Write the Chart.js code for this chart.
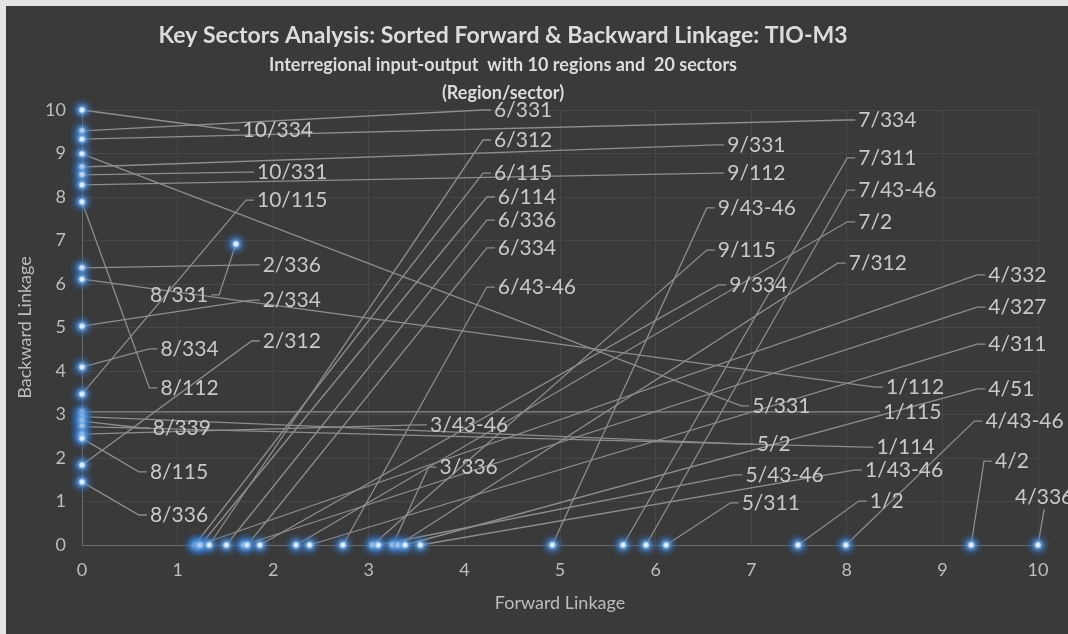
<!DOCTYPE html>
<html lang="en">
<head>
    <meta charset="UTF-8">
    <title>Key Sectors Analysis</title>
    <script src="https://cdn.jsdelivr.net/npm/chart.js"></script>
    <style>
        body { margin: 0; background: #e4e4e4; }
        #frame { position: absolute; left: 6px; top: 6px; width: 1062px; height: 628px; background: #3a3a3a; }
    </style>
</head>
<body>
    <div id="frame"><canvas id="linkChart" width="1062" height="628"></canvas></div>

    <script>
        // region/sector names, one per point
        const sectorLabels = [
            '10/334', '6/331', '7/334', '5/331', '9/331', '10/331', '9/112', '8/112',
            '2/336', '1/112', '2/334', '8/334', '10/115', '1/115', '5/2', '8/339',
            '1/114', '3/43-46', '8/115', '2/312', '8/336', '8/331',
            '4/336', '4/2', '4/43-46', '1/2', '5/311', '7/43-46', '7/311', '9/43-46',
            '6/115', '4/332', '6/114', '6/312', '6/336', '4/327', '6/334', '9/334',
            '7/2', '4/311', '6/43-46', '9/115', '5/43-46', '3/336', '7/312', '4/51', '1/43-46'
        ];
        const forwardLinkage = [
            0, 0, 0, 0, 0, 0, 0, 0,
            0, 0, 0, 0, 0, 0, 0, 0,
            0, 0, 0, 0, 0, 1.61,
            10.0, 9.30, 7.99, 7.49, 6.11, 5.90, 5.66, 4.92,
            1.18, 1.22, 1.24, 1.33, 1.51, 1.69, 1.73, 1.86,
            2.24, 2.38, 2.73, 3.04, 3.10, 3.25, 3.31, 3.38, 3.54
        ];
        const backwardLinkage = [
            10.0, 9.52, 9.33, 8.99, 8.69, 8.51, 8.28, 7.89,
            6.37, 6.11, 5.03, 4.09, 3.47, 3.06, 2.95, 2.85,
            2.72, 2.55, 2.45, 1.84, 1.45, 6.92,
            0, 0, 0, 0, 0, 0, 0, 0,
            0, 0, 0, 0, 0, 0, 0, 0,
            0, 0, 0, 0, 0, 0, 0, 0, 0
        ];
        // where each data label sits (axis units, left edge / middle of the text)
        const labelAnchorX = [
            1.68, 4.31, 8.12, 7.01, 6.75, 1.83, 6.75, 0.82,
            1.89, 8.41, 1.89, 0.82, 1.83, 8.38, 7.06, 0.74,
            8.31, 3.64, 0.71, 1.89, 0.71, 0.71,
            9.76, 9.55, 9.45, 8.24, 6.90, 8.12, 8.12, 6.65,
            4.31, 9.48, 4.35, 4.31, 4.35, 9.48, 4.35, 6.77,
            8.12, 9.48, 4.35, 6.65, 6.94, 3.74, 8.02, 9.48, 8.19
        ];
        const labelAnchorY = [
            9.54, 10.0, 9.77, 3.20, 9.20, 8.57, 8.55, 3.61,
            6.44, 3.63, 5.63, 4.51, 7.93, 3.06, 2.32, 2.69,
            2.25, 2.76, 1.68, 4.69, 0.69, 5.75,
            1.10, 1.93, 2.85, 1.01, 0.97, 8.16, 8.90, 7.75,
            8.55, 6.21, 8.00, 9.31, 7.47, 5.47, 6.83, 5.98,
            7.43, 4.62, 5.93, 6.78, 1.61, 1.79, 6.48, 3.59, 1.72
        ];
        const axisTicks = [0, 1, 2, 3, 4, 5, 6, 7, 8, 9, 10];

        const points = forwardLinkage.map((f, i) => ({ x: f, y: backwardLinkage[i] }));

        // soft blue marker sprite
        function glowSprite() {
            const c = document.createElement('canvas');
            c.width = 26; c.height = 26;
            const g = c.getContext('2d');
            const grad = g.createRadialGradient(13, 13, 0, 13, 13, 13);
            grad.addColorStop(0, 'rgba(240,248,255,1)');
            grad.addColorStop(0.16, 'rgba(200,228,255,1)');
            grad.addColorStop(0.3, 'rgba(95,160,230,0.75)');
            grad.addColorStop(0.6, 'rgba(55,115,190,0.32)');
            grad.addColorStop(1, 'rgba(40,90,160,0)');
            g.fillStyle = grad;
            g.fillRect(0, 0, 26, 26);
            return c;
        }

        // leader lines + data labels, drawn under the points
        const leaderLabels = {
            id: 'leaderLabels',
            beforeDatasetsDraw(chart) {
                const ctx = chart.ctx;
                const xs = chart.scales.x, ys = chart.scales.y;
                ctx.save();
                ctx.font = '21px Lato';
                ctx.textBaseline = 'middle';
                ctx.textAlign = 'left';
                ctx.strokeStyle = '#8e8e8e';
                ctx.lineWidth = 1.3;
                sectorLabels.forEach((txt, i) => {
                    const px = xs.getPixelForValue(forwardLinkage[i]);
                    const py = ys.getPixelForValue(backwardLinkage[i]);
                    const left = xs.getPixelForValue(labelAnchorX[i]);
                    const cy = ys.getPixelForValue(labelAnchorY[i]);
                    const w = ctx.measureText(txt).width;
                    ctx.beginPath();
                    ctx.moveTo(px, py);
                    if (px < left - 4) {
                        ctx.lineTo(left - 11, cy);
                        ctx.lineTo(left - 3, cy);
                    } else if (px > left + w + 4) {
                        ctx.lineTo(left + w + 11, cy);
                        ctx.lineTo(left + w + 3, cy);
                    } else {
                        ctx.lineTo(left + w / 2, py > cy ? cy + 12 : cy - 12);
                    }
                    ctx.stroke();
                });
                ctx.fillStyle = '#c8c8c8';
                sectorLabels.forEach((txt, i) => {
                    ctx.fillText(txt, xs.getPixelForValue(labelAnchorX[i]), ys.getPixelForValue(labelAnchorY[i]));
                });
                ctx.restore();
            }
        };

        const titles = {
            id: 'titles',
            afterDraw(chart) {
                const ctx = chart.ctx;
                const a = chart.chartArea;
                ctx.save();
                ctx.textAlign = 'center';
                ctx.textBaseline = 'middle';
                ctx.fillStyle = '#dcdcdc';
                ctx.font = 'bold 23px Lato';
                ctx.fillText('Key Sectors Analysis: Sorted Forward & Backward Linkage: TIO-M3', 497, 30);
                ctx.font = 'bold 18px Lato';
                ctx.fillText('Interregional input-output  with 10 regions and  20 sectors', 497, 59);
                ctx.fillText('(Region/sector)', 497, 87);
                ctx.fillStyle = '#bdbdbd';
                ctx.font = '18px Lato';
                ctx.fillText('Forward Linkage', (a.left + a.right) / 2, 597);
                ctx.translate(19, (a.top + a.bottom) / 2);
                ctx.rotate(-Math.PI / 2);
                ctx.fillText('Backward Linkage', 0, 0);
                ctx.restore();
            }
        };

        const ctx = document.getElementById('linkChart').getContext('2d');
        new Chart(ctx, {
            type: 'scatter',
            data: {
                datasets: [{
                    data: points,
                    pointStyle: glowSprite(),
                    pointRadius: 13,
                    clip: false
                }]
            },
            options: {
                responsive: false,
                animation: false,
                layout: { padding: { top: 104, right: 30, left: 0, bottom: 0 } },
                plugins: {
                    legend: { display: false },
                    tooltip: { enabled: false }
                },
                scales: {
                    x: {
                        type: 'linear', min: 0, max: 10,
                        afterBuildTicks: s => { s.ticks = axisTicks.map(v => ({ value: v })); },
                        afterFit: s => { s.height = 89; },
                        ticks: { color: '#bdbdbd', font: { family: 'Lato', size: 18 }, padding: 14 },
                        grid: { color: '#474747', drawTicks: false },
                        border: { color: '#6a6a6a' }
                    },
                    y: {
                        type: 'linear', min: 0, max: 10,
                        afterBuildTicks: s => { s.ticks = axisTicks.map(v => ({ value: v })); },
                        afterFit: s => { s.width = 76; },
                        ticks: { color: '#bdbdbd', font: { family: 'Lato', size: 18 }, padding: 16 },
                        grid: { color: '#474747', drawTicks: false },
                        border: { color: '#6a6a6a' }
                    }
                }
            },
            plugins: [leaderLabels, titles]
        });
    </script>
</body>
</html>
